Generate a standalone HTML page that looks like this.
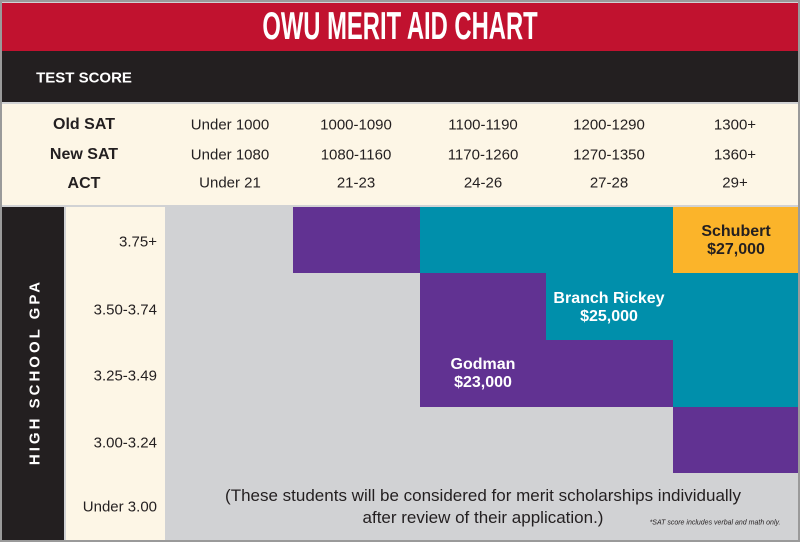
<!DOCTYPE html>
<html><head><meta charset="utf-8"><style>
body{margin:0;width:800px;height:542px;overflow:hidden;background:#9a9a9a;font-family:"Liberation Sans",sans-serif}
.a{position:absolute}
.t{position:absolute;white-space:nowrap;transform:translate(-50%,-50%)}
.r{position:absolute;white-space:nowrap;transform:translate(-100%,-50%)}
.h{font-weight:bold;font-size:16px;color:#231f20}
.v{font-size:15px;color:#231f20}
.w{font-weight:bold;font-size:16px;color:#fff;text-align:center;line-height:18px}
</style></head><body>
<div class="a" style="left:2px;top:2px;width:796px;height:538px;background:#d1d2d4"></div>
<div class="a" style="left:2px;top:3px;width:796px;height:48px;background:#c1122f"></div>
<div class="t" style="left:400px;top:27px;color:#fff;font-family:'Liberation Sans Narrow','Liberation Sans',sans-serif;font-weight:bold;font-size:39px;transform:translate(-50%,-50%) scaleX(0.61)">OWU MERIT AID CHART</div>
<div class="a" style="left:2px;top:51px;width:796px;height:51px;background:#231f20"></div>
<div class="t" style="left:84px;top:78px;color:#fff;font-weight:bold;font-size:15px">TEST SCORE</div>
<div class="a" style="left:2px;top:104px;width:796px;height:101px;background:#fdf6e6"></div>
<div class="t h" style="left:84px;top:125px">Old SAT</div>
<div class="t h" style="left:84px;top:155px">New SAT</div>
<div class="t h" style="left:84px;top:184px">ACT</div>
<div class="t v" style="left:230px;top:125px">Under 1000</div>
<div class="t v" style="left:230px;top:155px">Under 1080</div>
<div class="t v" style="left:230px;top:183px">Under 21</div>
<div class="t v" style="left:356px;top:125px">1000-1090</div>
<div class="t v" style="left:356px;top:155px">1080-1160</div>
<div class="t v" style="left:356px;top:183px">21-23</div>
<div class="t v" style="left:483px;top:125px">1100-1190</div>
<div class="t v" style="left:483px;top:155px">1170-1260</div>
<div class="t v" style="left:483px;top:183px">24-26</div>
<div class="t v" style="left:609px;top:125px">1200-1290</div>
<div class="t v" style="left:609px;top:155px">1270-1350</div>
<div class="t v" style="left:609px;top:183px">27-28</div>
<div class="t v" style="left:735px;top:125px">1300+</div>
<div class="t v" style="left:735px;top:155px">1360+</div>
<div class="t v" style="left:735px;top:183px">29+</div>
<div class="a" style="left:2px;top:207px;width:62px;height:333px;background:#231f20"></div>
<div class="t" style="left:35px;top:372px;color:#fff;font-weight:bold;font-size:15px;letter-spacing:3px;transform:translate(-50%,-50%) rotate(-90deg)">HIGH SCHOOL GPA</div>
<div class="a" style="left:66px;top:207px;width:99px;height:333px;background:#fdf6e6"></div>
<div class="r v" style="left:157px;top:242px">3.75+</div>
<div class="r v" style="left:157px;top:310px">3.50-3.74</div>
<div class="r v" style="left:157px;top:376px">3.25-3.49</div>
<div class="r v" style="left:157px;top:443px">3.00-3.24</div>
<div class="r v" style="left:157px;top:507px">Under 3.00</div>
<div class="a" style="left:167px;top:207px;width:631px;height:333px;background:#d1d2d4"></div>
<div class="a" style="left:293px;top:207px;width:127px;height:66px;background:#613292"></div>
<div class="a" style="left:420px;top:207px;width:253px;height:66px;background:#008fab"></div>
<div class="a" style="left:673px;top:207px;width:125px;height:66px;background:#fbb42a"></div>
<div class="a" style="left:420px;top:273px;width:126px;height:67px;background:#613292"></div>
<div class="a" style="left:546px;top:273px;width:252px;height:67px;background:#008fab"></div>
<div class="a" style="left:420px;top:340px;width:253px;height:67px;background:#613292"></div>
<div class="a" style="left:673px;top:340px;width:125px;height:67px;background:#008fab"></div>
<div class="a" style="left:673px;top:407px;width:125px;height:66px;background:#613292"></div>
<div class="t w" style="left:736px;top:241px;color:#231f20">Schubert<br>$27,000</div>
<div class="t w" style="left:609px;top:308px">Branch Rickey<br>$25,000</div>
<div class="t w" style="left:483px;top:374px">Godman<br>$23,000</div>
<div class="t" style="left:483px;top:507px;font-size:17px;color:#231f20;text-align:center;line-height:22px">(These students will be considered for merit scholarships individually<br>after review of their application.)</div>
<div class="t" style="left:715px;top:523px;font-size:7px;font-style:italic;color:#231f20">*SAT score includes verbal and math only.</div>
</body></html>
